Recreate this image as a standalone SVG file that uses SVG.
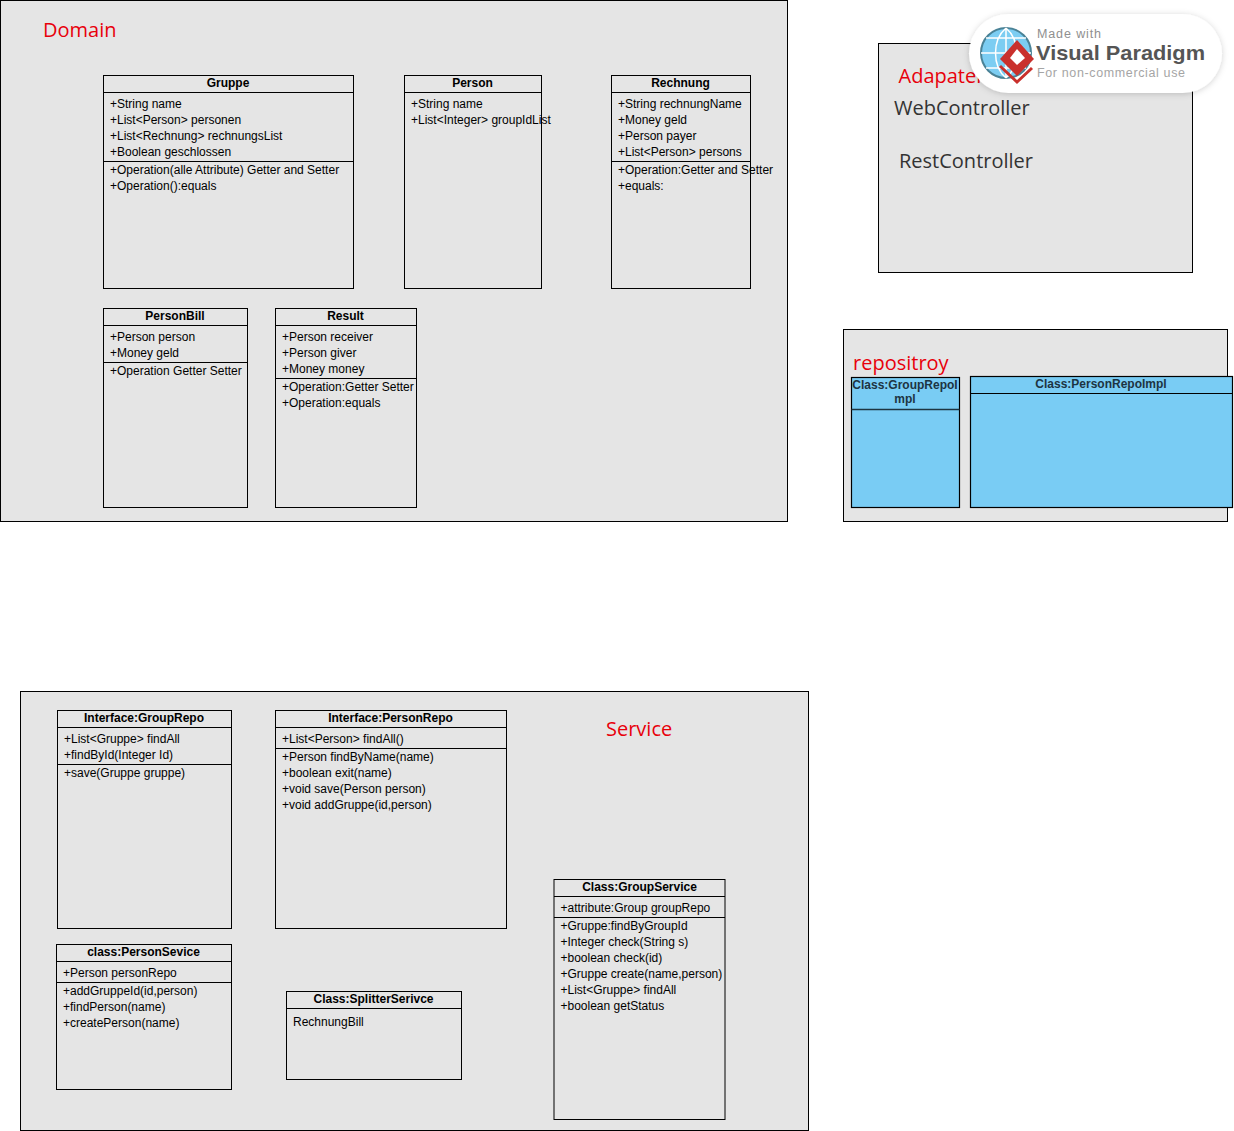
<svg xmlns="http://www.w3.org/2000/svg" width="1234" height="1131" viewBox="0 0 1234 1131">
<style>
.pkg{fill:#e5e5e5;stroke:#000;stroke-width:1}
.box{fill:none;stroke:#000;stroke-width:1}
.blue{fill:#79ccf4;stroke:#000;stroke-width:1.2}
.l{stroke:#000;stroke-width:1;fill:none}
text{font-family:"Liberation Sans",Arial,sans-serif;font-size:12px;fill:#000}
.t{font-weight:bold;text-anchor:middle}
.b{fill:#1d3442}
.r{font-family:"Open Sans","Noto Sans",sans-serif;font-size:20px;fill:#e8000b}
.g{font-family:"Open Sans","Noto Sans",sans-serif;font-size:20px;fill:#333}
.w1{font-size:12.500px;fill:#8f8f8f}
.w2{font-size:21px;font-weight:bold;fill:#555}
.w3{font-size:12.500px;fill:#a5a5a5}
</style>
<defs>
<filter id="sh" x="-10%" y="-20%" width="120%" height="140%"><feDropShadow dx="0" dy="1" stdDeviation="3" flood-color="#000" flood-opacity="0.18"/></filter>
</defs>
<g id="connectors"></g>
<g id="domain">
<rect class="pkg" x="0.500" y="0.500" width="787" height="521"/>
<text class="r" x="43" y="37">Domain</text>
</g>
<g id="adapter">
<rect class="pkg" x="878.500" y="43.500" width="314" height="229"/>
<text class="r" x="898.500" y="83">Adapater</text>
<text class="g" x="894" y="115">WebController</text>
<text class="g" x="899" y="168">RestController</text>
</g>
<g id="repository">
<rect class="pkg" x="843.500" y="329.500" width="384" height="192"/>
<text class="r" x="853" y="370">repositroy</text>
</g>
<g id="service">
<rect class="pkg" x="20.500" y="691.500" width="788" height="439"/>
<text class="r" x="606" y="736">Service</text>
</g>
<g id="Gruppe">
<rect class="box" x="103.500" y="75.500" width="250" height="213"/>
<path class="l" d="M103.500 92.500H353.500M103.500 161.500H353.500"/>
<text class="t" x="228" y="87">Gruppe</text>
<text x="110" y="108">+String name</text>
<text x="110" y="124">+List&lt;Person&gt; personen</text>
<text x="110" y="140">+List&lt;Rechnung&gt; rechnungsList</text>
<text x="110" y="156">+Boolean geschlossen</text>
<text x="110" y="174">+Operation(alle Attribute) Getter and Setter</text>
<text x="110" y="190">+Operation():equals</text>
</g>
<g id="Person">
<rect class="box" x="404.500" y="75.500" width="137" height="213"/>
<path class="l" d="M404.500 92.500H541.500"/>
<text class="t" x="472.500" y="87">Person</text>
<text x="411" y="108">+String name</text>
<text x="411" y="124">+List&lt;Integer&gt; groupIdList</text>
</g>
<g id="Rechnung">
<rect class="box" x="611.500" y="75.500" width="139" height="213"/>
<path class="l" d="M611.500 92.500H750.500M611.500 161.500H750.500"/>
<text class="t" x="680.500" y="87">Rechnung</text>
<text x="618" y="108">+String rechnungName</text>
<text x="618" y="124">+Money geld</text>
<text x="618" y="140">+Person payer</text>
<text x="618" y="156">+List&lt;Person&gt; persons</text>
<text x="618" y="174">+Operation:Getter and Setter</text>
<text x="618" y="190">+equals:</text>
</g>
<g id="PersonBill">
<rect class="box" x="103.500" y="308.500" width="144" height="199"/>
<path class="l" d="M103.500 325.500H247.500M103.500 362.500H247.500"/>
<text class="t" x="175" y="320">PersonBill</text>
<text x="110" y="341">+Person person</text>
<text x="110" y="357">+Money geld</text>
<text x="110" y="375">+Operation Getter Setter</text>
</g>
<g id="Result">
<rect class="box" x="275.500" y="308.500" width="141" height="199"/>
<path class="l" d="M275.500 325.500H416.500M275.500 378.500H416.500"/>
<text class="t" x="345.500" y="320">Result</text>
<text x="282" y="341">+Person receiver</text>
<text x="282" y="357">+Person giver</text>
<text x="282" y="373">+Money money</text>
<text x="282" y="391">+Operation:Getter Setter</text>
<text x="282" y="407">+Operation:equals</text>
</g>
<g id="GroupRepoImpl">
<rect class="blue" x="851.500" y="377.500" width="108" height="130"/>
<path class="l" d="M851.500 409.500H959.500" style="stroke-width:1.500;stroke:#1d3442"/>
<text class="t b" x="905" y="389">Class:GroupRepoI</text>
<text class="t b" x="905" y="403">mpl</text>
</g>
<g id="PersonRepoImpl">
<rect class="blue" x="970.500" y="376.500" width="262" height="131"/>
<path class="l" d="M970.500 393.500H1232.500"/>
<text class="t b" x="1101" y="388">Class:PersonRepoImpl</text>
</g>
<g id="InterfaceGroupRepo">
<rect class="box" x="57.500" y="710.500" width="174" height="218"/>
<path class="l" d="M57.500 727.500H231.500M57.500 764.500H231.500"/>
<text class="t" x="144" y="722">Interface:GroupRepo</text>
<text x="64" y="743">+List&lt;Gruppe&gt; findAll</text>
<text x="64" y="759">+findById(Integer Id)</text>
<text x="64" y="777">+save(Gruppe gruppe)</text>
</g>
<g id="InterfacePersonRepo">
<rect class="box" x="275.500" y="710.500" width="231" height="218"/>
<path class="l" d="M275.500 727.500H506.500M275.500 748.500H506.500"/>
<text class="t" x="390.500" y="722">Interface:PersonRepo</text>
<text x="282" y="743">+List&lt;Person&gt; findAll()</text>
<text x="282" y="761">+Person findByName(name)</text>
<text x="282" y="777">+boolean exit(name)</text>
<text x="282" y="793">+void save(Person person)</text>
<text x="282" y="809">+void addGruppe(id,person)</text>
</g>
<g id="PersonSevice">
<rect class="box" x="56.500" y="944.500" width="175" height="145"/>
<path class="l" d="M56.500 961.500H231.500M56.500 982.500H231.500"/>
<text class="t" x="143.500" y="956">class:PersonSevice</text>
<text x="63" y="977">+Person personRepo</text>
<text x="63" y="995">+addGruppeId(id,person)</text>
<text x="63" y="1011">+findPerson(name)</text>
<text x="63" y="1027">+createPerson(name)</text>
</g>
<g id="SplitterSerivce">
<rect class="box" x="286.500" y="991.500" width="175" height="88"/>
<path class="l" d="M286.500 1008.500H461.500"/>
<text class="t" x="373.500" y="1003">Class:SplitterSerivce</text>
<text x="293" y="1026">RechnungBill</text>
</g>
<g id="GroupService">
<rect class="box" x="554" y="879.500" width="171" height="240"/>
<path class="l" d="M554 896.500H725M554 917.500H725"/>
<text class="t" x="639.500" y="891">Class:GroupService</text>
<text x="560.500" y="912">+attribute:Group groupRepo</text>
<text x="560.500" y="930">+Gruppe:findByGroupId</text>
<text x="560.500" y="946">+Integer check(String s)</text>
<text x="560.500" y="962">+boolean check(id)</text>
<text x="560.500" y="978">+Gruppe create(name,person)</text>
<text x="560.500" y="994">+List&lt;Gruppe&gt; findAll</text>
<text x="560.500" y="1010">+boolean getStatus</text>
</g>
<g id="watermark">
<rect x="969" y="14" width="253" height="79" rx="39.500" fill="#fff" filter="url(#sh)"/>
<circle cx="1006" cy="53" r="25" fill="#7ccdf2" stroke="#4a8296" stroke-width="2"/>
<path d="M981 53H1031M1006 28V78M986 38H1026M986 68H1026M1006 28C992 40 992 66 1006 78M1006 28C1020 40 1020 66 1006 78" fill="none" stroke="#fff" stroke-width="1.500"/>
<path d="M1017 40L1034 59L1017 76L1000 59Z" fill="#c9302c"/>
<path d="M1017 49L1025 58L1017 65L1010 58Z" fill="#fff"/>
<path d="M1000 66L1017 82L1032 68" fill="none" stroke="#c9302c" stroke-width="3"/>
<text class="w1" x="1037" y="38" textLength="64" lengthAdjust="spacing">Made with</text>
<text class="w2" x="1036" y="60" textLength="169" lengthAdjust="spacingAndGlyphs">Visual Paradigm</text>
<text class="w3" x="1037" y="77" textLength="148" lengthAdjust="spacing">For non-commercial use</text>
</g>
</svg>
